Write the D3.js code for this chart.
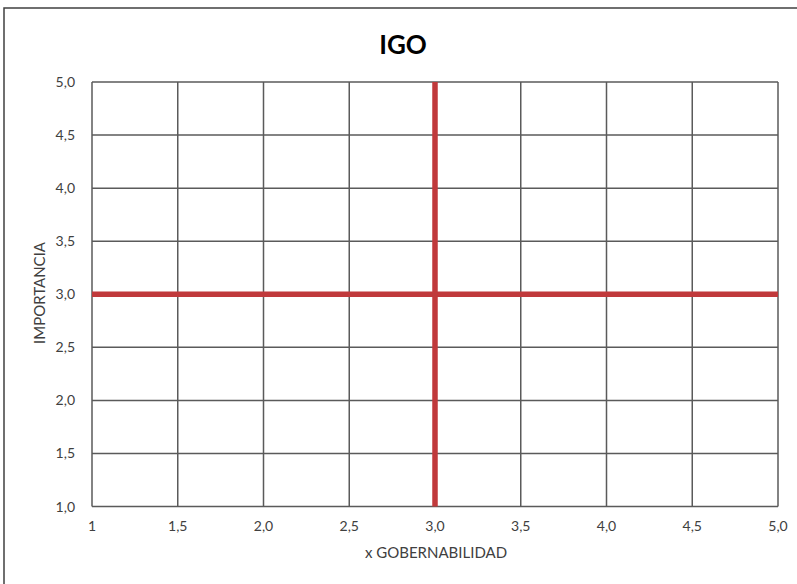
<!DOCTYPE html>
<html>
<head>
<meta charset="utf-8">
<script src="https://cdn.jsdelivr.net/npm/d3@7"></script>
<style>
  body { margin: 0; background: #fff; }
  text { font-family: Lato, "Open Sans", sans-serif; }
</style>
</head>
<body>
<svg id="chart" width="797" height="584"></svg>
<script>
// chart data
const xTicks = [1, 1.5, 2, 2.5, 3, 3.5, 4, 4.5, 5];
const xTickLabels = ["1", "1,5", "2,0", "2,5", "3,0", "3,5", "4,0", "4,5", "5,0"];
const yTicks = [1, 1.5, 2, 2.5, 3, 3.5, 4, 4.5, 5];
const yTickLabels = ["1,0", "1,5", "2,0", "2,5", "3,0", "3,5", "4,0", "4,5", "5,0"];
const crossX = [3];
const crossY = [3];

const svg = d3.select("#chart");
const plotLeft = 92, plotTop = 82, plotRight = 778, plotBottom = 506.5;

const x = d3.scaleLinear().domain([1, 5]).range([plotLeft, plotRight]);
const y = d3.scaleLinear().domain([1, 5]).range([plotBottom, plotTop]);

// outer frame (runs off the right and bottom edge)
svg.append("rect")
  .attr("x", 4).attr("y", 8)
  .attr("width", 820).attr("height", 600)
  .attr("fill", "none").attr("stroke", "#404040").attr("stroke-width", 1.5);

// grid
svg.append("g").selectAll("line").data(xTicks).join("line")
  .attr("x1", d => x(d)).attr("x2", d => x(d))
  .attr("y1", plotTop).attr("y2", plotBottom)
  .attr("stroke", "#5a5a5a").attr("stroke-width", 1.5);
svg.append("g").selectAll("line").data(yTicks).join("line")
  .attr("y1", d => y(d)).attr("y2", d => y(d))
  .attr("x1", plotLeft).attr("x2", plotRight)
  .attr("stroke", "#5a5a5a").attr("stroke-width", 1.5);

// red cross lines
svg.append("g").selectAll("line").data(crossY).join("line")
  .attr("y1", d => y(d)).attr("y2", d => y(d))
  .attr("x1", plotLeft).attr("x2", plotRight)
  .attr("stroke", "#c0393b").attr("stroke-width", 5.5);
svg.append("g").selectAll("line").data(crossX).join("line")
  .attr("x1", d => x(d)).attr("x2", d => x(d))
  .attr("y1", plotTop).attr("y2", plotBottom)
  .attr("stroke", "#c0393b").attr("stroke-width", 5.5);

// tick labels
svg.append("g").selectAll("text").data(xTicks).join("text")
  .attr("x", d => x(d)).attr("y", 531)
  .attr("text-anchor", "middle")
  .attr("font-size", 14).attr("fill", "#404040")
  .text((d, i) => xTickLabels[i]);
svg.append("g").selectAll("text").data(yTicks).join("text")
  .attr("x", 75).attr("y", d => y(d) + 5)
  .attr("text-anchor", "end")
  .attr("font-size", 14).attr("fill", "#404040")
  .text((d, i) => yTickLabels[i]);

// title and axis titles
svg.append("text")
  .attr("x", 403).attr("y", 54)
  .attr("text-anchor", "middle")
  .attr("font-size", 26).attr("font-weight", "bold").attr("fill", "#000")
  .text("IGO");
svg.append("text")
  .attr("x", 436).attr("y", 558)
  .attr("text-anchor", "middle")
  .attr("font-size", 15).attr("fill", "#404040")
  .text("x GOBERNABILIDAD");
svg.append("text")
  .attr("transform", "translate(45,293) rotate(-90)")
  .attr("text-anchor", "middle")
  .attr("font-size", 15).attr("fill", "#404040")
  .text("IMPORTANCIA");
</script>
</body>
</html>
